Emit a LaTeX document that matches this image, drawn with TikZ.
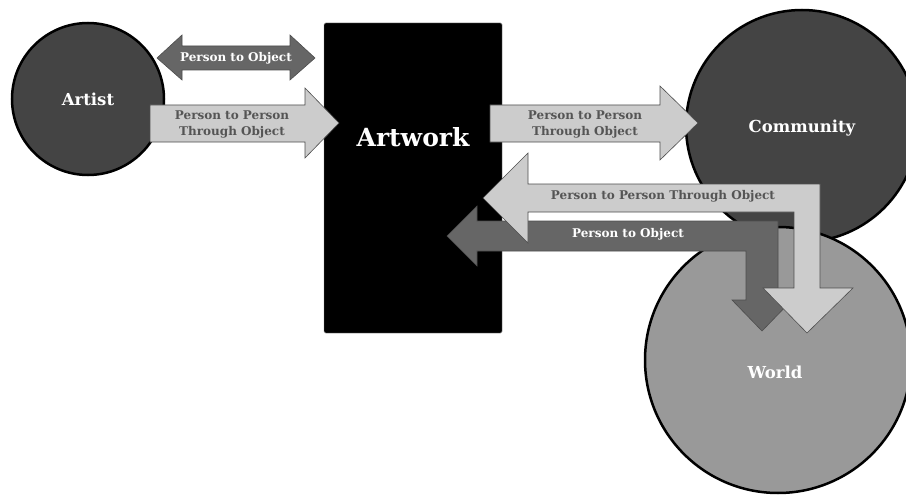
\documentclass[tikz,border=0pt]{standalone}
\usepackage{fontspec}
\setmainfont{DejaVu Serif}
\usepackage{tikz}
\usetikzlibrary{calc}
\usepackage{xcolor}
\definecolor{fillA}{HTML}{444444}
\definecolor{fillW}{HTML}{999999}
\definecolor{darkarr}{HTML}{666666}
\definecolor{lightarr}{HTML}{CCCCCC}
\definecolor{edgegray}{HTML}{4D4D4D}
\definecolor{txtgray}{HTML}{555555}

\begin{document}
\begin{tikzpicture}[x=1pt, y=-1pt,
  circ/.style={circle, draw=black, line width=2.5pt, inner sep=0pt},
  darkblk/.style={fill=darkarr, draw=edgegray, line width=0.6pt, line join=miter},
  lightblk/.style={fill=lightarr, draw=edgegray, line width=0.6pt, line join=miter},
  dlbl/.style={font=\bfseries\fontsize{12}{16}\selectfont, text=white, align=center},
  llbl/.style={font=\bfseries\fontsize{12}{16}\selectfont, text=txtgray, align=center},
  big/.style={font=\bfseries\fontsize{16.5}{19}\selectfont, text=white}]
  \useasboundingbox (0,0) rectangle (906,495);
  \clip (0,0) rectangle (906,495);

  % the three parties
  \node[circ, fill=fillA, minimum size=152pt, big] (artist) at (88,99) {Artist};
  \node[circ, fill=fillA, minimum size=232pt] (cmty) at (802,126) {};
  \node[circ, fill=fillW, minimum size=266pt] (world) at (778,360) {};
  \node[big] (cmtylbl) at (802,128) {Community};
  \node[big] (worldlbl) at ($(world)+(-3,12)$) {World};

  % the object
  \node[draw=gray, fill=black, rounded corners=1.5pt, minimum width=178pt,
        minimum height=310pt, inner sep=0pt] (artwork) at (413,178) {};
  \node[font=\bfseries\fontsize{25}{28}\selectfont, text=white] (artworklbl)
       at (413,137) {Artwork};

  % block arrows
  \draw[darkblk] (157,58) -- (182,35) -- (182,46) -- (290,46) -- (290,35)
     -- (315,58) -- (290,80) -- (290,70) -- (182,70) -- (182,80) -- cycle;
  \draw[lightblk] (150,105) -- (305,105) -- (305,88) -- (339,123)
     -- (305,158) -- (305,142) -- (150,142) -- cycle;
  \draw[lightblk] (490,105) -- (660,105) -- (660,86) -- (698,123)
     -- (660,160) -- (660,142) -- (490,142) -- cycle;
  \draw[darkblk] (447,236) -- (477,206) -- (477,221) -- (778,221) -- (778,300)
     -- (792,300) -- (762,331) -- (732,300) -- (746,300) -- (746,251)
     -- (477,251) -- (477,266) -- cycle;
  \draw[lightblk] (483,198) -- (528,153) -- (528,184) -- (820,184) -- (820,288)
     -- (853,288) -- (807,333) -- (763,288) -- (794,288) -- (794,212)
     -- (528,212) -- (528,243) -- cycle;

  \node[dlbl] (p2o) at (236,58) {Person to Object};
  \node[llbl] (p2p) at (232,124) {Person to Person\\Through Object};
  \node[llbl] (p2pc) at (585,124) {Person to Person\\Through Object};
  \node[llbl] (p2pw) at (663,196) {Person to Person Through Object};
  \node[dlbl] (p2ow) at (628,234) {Person to Object};
\end{tikzpicture}
\end{document}
